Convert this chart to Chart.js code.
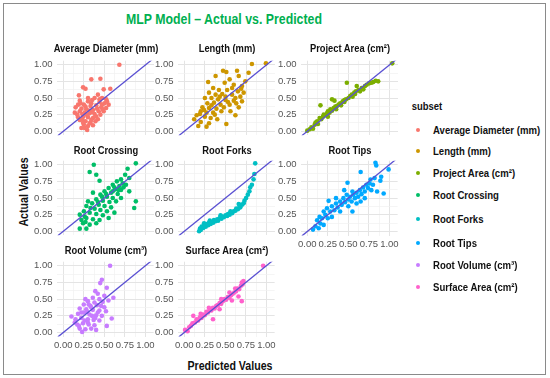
<!DOCTYPE html>
<html><head><meta charset="utf-8">
<script src="https://cdn.jsdelivr.net/npm/chart.js@4.4.1/dist/chart.umd.min.js"></script>
<style>
body{margin:0;width:550px;height:378px;background:#fff;position:relative;overflow:hidden;font-family:"Liberation Sans",Arial,sans-serif}
#frame{position:absolute;left:3px;top:3px;width:541px;height:370px;border:1.5px solid #8a8a8a}
.t{position:absolute;white-space:nowrap;font-weight:bold;color:#111;transform:translate(-50%,-50%) scaleX(0.85)}
canvas{position:absolute}
.li{position:absolute;left:433px;font-weight:bold;font-size:11px;color:#111;white-space:nowrap;transform:translateY(-50%) scaleX(0.87);transform-origin:0 50%}
.dot{position:absolute;left:416px;width:4px;height:4px;border-radius:50%;transform:translateY(-50%)}
</style></head><body>
<div id="frame"></div>
<div class="t" style="left:224px;top:19px;font-size:14.5px;color:#00b050">MLP Model – Actual vs. Predicted</div>
<div class="t" style="left:24px;top:192px;font-size:12.5px;transform:translate(-50%,-50%) rotate(-90deg) scaleX(0.85)">Actual Values</div>
<div class="t" style="left:230px;top:366px;font-size:12.5px">Predicted Values</div>
<div class="t" style="left:427px;top:106px;font-size:10.5px;transform:translate(-50%,-50%) scaleX(0.9)">subset</div>
<script>
// ---- data ----
const subsets = ["Average Diameter (mm)","Length (mm)","Project Area (cm²)","Root Crossing","Root Forks","Root Tips","Root Volume (cm³)","Surface Area (cm²)"];
const subsetColors = ["#F8766D","#CD9600","#7CAE00","#00BE67","#00BFC4","#00A9FF","#C77CFF","#FF61CC"];
const tickValues = [0,0.25,0.5,0.75,1];
const tickLabels = ["0.00","0.25","0.50","0.75","1.00"];

const avgDiameter = [[0.68,1.0],[0.34,0.78],[0.45,0.79],[0.24,0.66],[0.27,0.64],[0.57,0.64],[0.49,0.63],[0.19,0.54],[0.42,0.55],[0.38,0.5],[0.47,0.5],[0.52,0.48],[0.2,0.46],[0.3,0.45],[0.35,0.47],[0.44,0.44],[0.5,0.42],[0.55,0.4],[0.18,0.4],[0.25,0.4],[0.33,0.38],[0.4,0.39],[0.46,0.36],[0.52,0.35],[0.15,0.36],[0.22,0.34],[0.28,0.33],[0.36,0.32],[0.43,0.3],[0.49,0.3],[0.2,0.3],[0.26,0.28],[0.32,0.27],[0.38,0.26],[0.45,0.25],[0.17,0.25],[0.24,0.22],[0.3,0.21],[0.36,0.2],[0.42,0.18],[0.2,0.17],[0.27,0.15],[0.33,0.13],[0.25,0.1],[0.3,0.08],[0.36,0.09],[0.22,0.05],[0.29,0.02],[0.32,0.12],[0.4,0.22],[0.47,0.4],[0.3,0.5],[0.23,0.18],[0.14,0.28],[0.53,0.45],[0.21,0.42],[0.27,0.37],[0.34,0.42],[0.41,0.34],[0.48,0.33],[0.23,0.26],[0.29,0.24],[0.35,0.29],[0.39,0.15],[0.26,0.05],[0.18,0.21],[0.31,0.31],[0.44,0.48],[0.24,0.13],[0.34,0.17]];
const lengthMm = [[0.82,1.01],[0.99,1.02],[0.51,0.89],[0.47,0.91],[0.38,0.83],[0.64,0.91],[0.29,0.74],[0.49,0.73],[0.66,0.83],[0.74,0.75],[0.78,0.88],[0.55,0.78],[0.6,0.7],[0.7,0.68],[0.35,0.65],[0.42,0.62],[0.52,0.62],[0.65,0.6],[0.72,0.58],[0.3,0.58],[0.38,0.55],[0.46,0.56],[0.58,0.55],[0.68,0.52],[0.25,0.5],[0.33,0.5],[0.41,0.48],[0.5,0.47],[0.6,0.46],[0.7,0.45],[0.28,0.42],[0.36,0.43],[0.44,0.4],[0.55,0.4],[0.63,0.42],[0.22,0.36],[0.3,0.35],[0.39,0.34],[0.48,0.36],[0.66,0.36],[0.2,0.3],[0.27,0.28],[0.35,0.28],[0.45,0.3],[0.56,0.3],[0.15,0.24],[0.19,0.26],[0.25,0.22],[0.32,0.2],[0.62,0.24],[0.4,0.18],[0.12,0.18],[0.2,0.14],[0.3,0.12],[0.17,0.08],[0.27,0.07],[0.51,0.11],[0.37,0.25],[0.5,0.52],[0.58,0.65],[0.69,0.64],[0.62,0.5],[0.53,0.44],[0.43,0.52],[0.24,0.32],[0.33,0.39]];
const projectArea = [[0.0,0.01],[0.03,0.03],[0.05,0.06],[0.07,0.04],[0.09,0.1],[0.1,0.13],[0.12,0.15],[0.13,0.11],[0.15,0.2],[0.16,0.39],[0.17,0.18],[0.19,0.22],[0.2,0.25],[0.22,0.24],[0.24,0.27],[0.25,0.3],[0.27,0.28],[0.28,0.33],[0.3,0.31],[0.3,0.48],[0.32,0.35],[0.33,0.46],[0.34,0.37],[0.36,0.38],[0.38,0.4],[0.4,0.42],[0.41,0.39],[0.43,0.45],[0.45,0.47],[0.47,0.48],[0.48,0.73],[0.5,0.5],[0.52,0.53],[0.54,0.55],[0.55,0.52],[0.57,0.58],[0.59,0.6],[0.6,0.68],[0.62,0.62],[0.64,0.6],[0.66,0.65],[0.68,0.63],[0.7,0.68],[0.72,0.7],[0.75,0.72],[0.78,0.73],[0.8,0.74],[0.83,0.76],[0.86,0.75],[1.03,1.02],[0.25,0.22],[0.35,0.33],[0.45,0.44],[0.58,0.56]];
const rootCrossing = [[0.37,1.0],[0.88,1.02],[0.4,0.85],[0.32,0.89],[0.44,0.76],[0.78,0.94],[0.36,0.58],[0.88,0.45],[0.86,0.35],[0.2,0.04],[0.24,0.12],[0.28,0.04],[0.75,0.85],[0.7,0.78],[0.8,0.8],[0.65,0.75],[0.72,0.72],[0.6,0.7],[0.68,0.68],[0.76,0.7],[0.55,0.65],[0.63,0.63],[0.7,0.62],[0.5,0.6],[0.58,0.58],[0.66,0.56],[0.45,0.55],[0.53,0.52],[0.6,0.5],[0.7,0.5],[0.4,0.48],[0.48,0.46],[0.56,0.44],[0.64,0.45],[0.35,0.42],[0.43,0.4],[0.5,0.38],[0.58,0.36],[0.28,0.38],[0.38,0.34],[0.45,0.32],[0.53,0.3],[0.62,0.28],[0.25,0.3],[0.32,0.28],[0.4,0.26],[0.48,0.24],[0.2,0.25],[0.28,0.2],[0.36,0.18],[0.44,0.17],[0.22,0.17],[0.32,0.1],[0.4,0.12],[0.27,0.14],[0.55,0.2],[0.3,0.45],[0.6,0.6],[0.8,0.6],[0.73,0.66],[0.67,0.62],[0.52,0.56],[0.42,0.44],[0.33,0.35],[0.26,0.22],[0.47,0.52],[0.62,0.66]];
const rootForks = [[0.18,0.0],[0.19,0.04],[0.2,0.02],[0.21,0.07],[0.23,0.05],[0.24,0.09],[0.26,0.07],[0.27,0.11],[0.29,0.09],[0.3,0.13],[0.32,0.11],[0.33,0.14],[0.35,0.13],[0.36,0.17],[0.38,0.15],[0.4,0.18],[0.41,0.16],[0.43,0.2],[0.45,0.19],[0.46,0.22],[0.48,0.21],[0.5,0.24],[0.52,0.23],[0.53,0.26],[0.55,0.25],[0.57,0.28],[0.58,0.27],[0.6,0.3],[0.62,0.31],[0.63,0.34],[0.65,0.33],[0.67,0.37],[0.68,0.36],[0.7,0.4],[0.72,0.42],[0.73,0.46],[0.75,0.5],[0.77,0.55],[0.79,0.6],[0.8,0.66],[0.82,0.7],[0.84,0.78],[0.85,0.86],[0.86,1.02],[0.44,0.24],[0.56,0.3],[0.66,0.41],[0.31,0.16],[0.24,0.12]];
const rootTips = [[0.83,1.03],[0.84,0.99],[0.65,0.89],[0.77,0.78],[0.89,0.76],[0.99,0.93],[0.49,0.73],[0.55,0.6],[0.85,0.6],[0.93,0.57],[0.12,0.17],[0.07,0.03],[0.16,0.12],[0.1,0.08],[0.14,0.05],[0.2,0.1],[0.18,0.2],[0.22,0.25],[0.25,0.2],[0.28,0.3],[0.24,0.35],[0.3,0.38],[0.33,0.32],[0.35,0.42],[0.37,0.36],[0.4,0.45],[0.42,0.4],[0.44,0.5],[0.46,0.44],[0.48,0.55],[0.5,0.48],[0.52,0.52],[0.54,0.45],[0.56,0.55],[0.58,0.5],[0.6,0.58],[0.62,0.52],[0.64,0.62],[0.66,0.56],[0.68,0.66],[0.7,0.6],[0.72,0.7],[0.74,0.65],[0.76,0.72],[0.8,0.7],[0.82,0.8],[0.7,0.5],[0.6,0.42],[0.5,0.38],[0.4,0.3],[0.3,0.22],[0.26,0.46],[0.35,0.5],[0.45,0.62],[0.55,0.3],[0.2,0.3],[0.15,0.22],[0.65,0.45],[0.78,0.62],[0.9,0.82]];
const rootVolume = [[0.57,1.0],[0.47,0.79],[0.45,0.74],[0.39,0.62],[0.53,0.67],[0.61,0.52],[0.1,0.24],[0.59,0.21],[0.53,0.1],[0.42,0.58],[0.5,0.55],[0.36,0.52],[0.44,0.5],[0.3,0.47],[0.38,0.45],[0.48,0.46],[0.55,0.48],[0.25,0.42],[0.33,0.4],[0.41,0.41],[0.5,0.38],[0.2,0.36],[0.28,0.35],[0.36,0.34],[0.44,0.33],[0.52,0.32],[0.18,0.28],[0.25,0.3],[0.32,0.27],[0.4,0.26],[0.47,0.25],[0.15,0.2],[0.22,0.22],[0.3,0.2],[0.37,0.19],[0.44,0.18],[0.17,0.12],[0.24,0.14],[0.31,0.12],[0.38,0.11],[0.2,0.06],[0.27,0.05],[0.34,0.06],[0.23,0.01],[0.3,0.15],[0.35,0.25],[0.27,0.5],[0.46,0.4],[0.14,0.15],[0.4,0.04],[0.22,0.3],[0.29,0.31],[0.34,0.38],[0.42,0.3],[0.26,0.18],[0.19,0.1],[0.39,0.22],[0.31,0.42]];
const surfaceArea = [[0.96,1.0],[0.72,0.77],[0.7,0.47],[0.66,0.54],[0.43,0.35],[0.35,0.2],[0.11,0.25],[0.01,0.04],[0.04,0.02],[0.06,0.08],[0.08,0.1],[0.1,0.14],[0.13,0.15],[0.15,0.2],[0.17,0.18],[0.19,0.23],[0.21,0.22],[0.23,0.27],[0.25,0.26],[0.27,0.31],[0.29,0.3],[0.31,0.34],[0.33,0.33],[0.35,0.37],[0.37,0.36],[0.39,0.4],[0.41,0.41],[0.43,0.44],[0.45,0.43],[0.47,0.47],[0.49,0.5],[0.51,0.49],[0.53,0.53],[0.55,0.52],[0.57,0.56],[0.59,0.58],[0.61,0.6],[0.63,0.62],[0.65,0.66],[0.67,0.65],[0.69,0.7],[0.71,0.72],[0.7,0.75],[0.62,0.66],[0.55,0.6],[0.45,0.5],[0.3,0.37],[0.2,0.28],[0.58,0.48]];
const seriesData = [avgDiameter,lengthMm,projectArea,rootCrossing,rootForks,rootTips,rootVolume,surfaceArea];

// ---- layout ----
const colLeft = [57.5,178.5,301];
const rowTop = [61,161,262];
const titleY = [48,150,250];
const PW = 97, PH = 75;
const legendY = [130,151,173,195,219,243,265,287];

function fmt(v){
  const i = tickValues.findIndex(t => Math.abs(t - v) < 1e-6);
  return i >= 0 ? tickLabels[i] : '';
}
const isMajor = v => tickValues.some(t => Math.abs(t - v) < 1e-6);

function makeConfig(i, showX) {
  const tickFont = {family:'"Liberation Sans", Arial, sans-serif', size:9.5};
  const gridOpts = {
    color: c => isMajor(c.tick.value) ? '#e4e4e4' : '#f1f1f1',
    lineWidth: c => isMajor(c.tick.value) ? 1 : 0.7,
    drawTicks: false
  };
  return {
    type: 'scatter',
    data: { datasets: [
      { data: seriesData[i].map(p => ({x:p[0], y:p[1]})), backgroundColor: subsetColors[i], borderWidth: 0, pointRadius: 2.3, order: 2, clip: 4 },
      { type: 'line', data: [{x:-0.3,y:-0.3},{x:1.4,y:1.4}], borderColor: '#5a50d2', borderWidth: 1.3, pointRadius: 0, order: 1, clip: 0 }
    ]},
    options: {
      responsive: false, maintainAspectRatio: false, animation: false, events: [],
      layout: { padding: 0 },
      plugins: { legend: { display: false }, tooltip: { enabled: false } },
      scales: {
        x: { type: 'linear', min: -0.07, max: 1.1, border: { display: false }, grid: gridOpts,
             ticks: { display: showX, stepSize: 0.125, includeBounds: false, autoSkip: false, maxRotation: 0, padding: 3, color: '#555', font: tickFont, callback: v => fmt(v) } },
        y: { type: 'linear', min: -0.06, max: 1.06, border: { display: false }, grid: gridOpts,
             ticks: { stepSize: 0.125, includeBounds: false, autoSkip: false, padding: 5, color: '#555', font: tickFont, callback: v => fmt(v) } }
      }
    }
  };
}

function newCanvas(w, h) {
  const cv = document.createElement('canvas');
  cv.width = w; cv.height = h;
  cv.style.width = w + 'px'; cv.style.height = h + 'px';
  document.body.appendChild(cv);
  return cv;
}

subsets.forEach((name, i) => {
  const col = i % 3, row = Math.floor(i / 3);
  const showX = (i === 5 || i === 6 || i === 7);
  // first pass: measure how much room the axes take
  let w = 140, h = 110;
  let cv = newCanvas(w, h);
  let ch = new Chart(cv, makeConfig(i, showX));
  let ca = ch.chartArea;
  w = Math.round(w + PW - (ca.right - ca.left));
  h = Math.round(h + PH - (ca.bottom - ca.top));
  ch.destroy(); cv.remove();
  // second pass: exact plot size, then place the plot area
  cv = newCanvas(w, h);
  ch = new Chart(cv, makeConfig(i, showX));
  ca = ch.chartArea;
  cv.style.left = (colLeft[col] - ca.left) + 'px';
  cv.style.top = (rowTop[row] - ca.top) + 'px';

  const title = document.createElement('div');
  title.className = 't';
  title.style.cssText = `left:${colLeft[col] + PW/2}px;top:${titleY[row]}px;font-size:11px`;
  title.textContent = name;
  document.body.appendChild(title);

  const d = document.createElement('div');
  d.className = 'dot'; d.style.top = legendY[i] + 'px'; d.style.background = subsetColors[i];
  document.body.appendChild(d);
  const l = document.createElement('div');
  l.className = 'li'; l.style.top = legendY[i] + 'px'; l.textContent = name;
  document.body.appendChild(l);
});
</script>
</body></html>
